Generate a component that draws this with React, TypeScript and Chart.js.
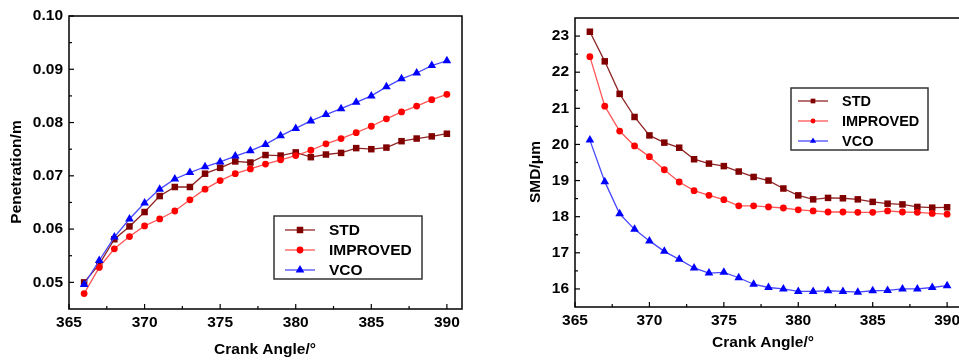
import React, { useEffect, useRef } from 'react';
import { Chart, registerables } from 'chart.js';
Chart.register(...registerables);

const crankAngles = [366, 367, 368, 369, 370, 371, 372, 373, 374, 375, 376, 377, 378, 379, 380, 381, 382, 383, 384, 385, 386, 387, 388, 389, 390];

const penSTD = [0.0500, 0.0534, 0.0581, 0.0605, 0.0632, 0.0662, 0.0679, 0.0679, 0.0704, 0.0715, 0.0727, 0.0725, 0.0739, 0.0738, 0.0744, 0.0735, 0.0740, 0.0743, 0.0752, 0.0750, 0.0753, 0.0765, 0.0770, 0.0774, 0.0779];
const penIMPROVED = [0.0479, 0.0528, 0.0563, 0.0586, 0.0606, 0.0619, 0.0634, 0.0655, 0.0675, 0.0691, 0.0704, 0.0713, 0.0722, 0.0730, 0.0738, 0.0748, 0.0760, 0.0770, 0.0781, 0.0793, 0.0807, 0.0820, 0.0831, 0.0843, 0.0853];
const penVCO = [0.0496, 0.0541, 0.0585, 0.0619, 0.0649, 0.0675, 0.0694, 0.0706, 0.0717, 0.0726, 0.0737, 0.0747, 0.0759, 0.0775, 0.0789, 0.0803, 0.0815, 0.0826, 0.0838, 0.0850, 0.0867, 0.0882, 0.0893, 0.0907, 0.0916];

const smdSTD = [23.12, 22.30, 21.40, 20.76, 20.25, 20.05, 19.91, 19.59, 19.47, 19.40, 19.25, 19.10, 19.00, 18.78, 18.59, 18.48, 18.52, 18.51, 18.48, 18.41, 18.36, 18.34, 18.27, 18.25, 18.26];
const smdIMPROVED = [22.43, 21.06, 20.37, 19.96, 19.66, 19.30, 18.96, 18.72, 18.59, 18.47, 18.30, 18.30, 18.27, 18.24, 18.19, 18.16, 18.13, 18.13, 18.12, 18.12, 18.16, 18.13, 18.12, 18.09, 18.07];
const smdVCO = [20.12, 18.97, 18.08, 17.65, 17.33, 17.04, 16.82, 16.58, 16.44, 16.46, 16.31, 16.13, 16.04, 16.00, 15.93, 15.93, 15.95, 15.93, 15.91, 15.95, 15.96, 16.00, 16.00, 16.04, 16.09];

const seriesNames = ['STD', 'IMPROVED', 'VCO'];
const xTickValues = [365, 370, 375, 380, 385, 390];
const penTickValues = [0.05, 0.06, 0.07, 0.08, 0.09, 0.10];
const smdTickValues = [16, 17, 18, 19, 20, 21, 22, 23];
const xTitle = 'Crank Angle/°';
const penTitle = 'Penetration/m';
const smdTitle = 'SMD/μm';

const FAMILY = 'Arial, "Liberation Sans", sans-serif';
const FONT_SIZE = 15.5;
const FONT = `bold ${FONT_SIZE}px ${FAMILY}`;

const styles = [
  { marker: '#800000', line: '#902525', pointStyle: 'rect', radius: 4.6 },
  { marker: '#ff0000', line: '#ff5555', pointStyle: 'circle', radius: 3.4 },
  { marker: '#0000ff', line: '#4848ff', pointStyle: 'triangle', radius: 5 },
];

function drawMarker(ctx: CanvasRenderingContext2D, style: string, r: number, x: number, y: number) {
  ctx.beginPath();
  if (style === 'rect') {
    const s = Math.SQRT1_2 * r;
    ctx.rect(x - s, y - s, 2 * s, 2 * s);
  } else if (style === 'circle') {
    ctx.arc(x, y, r, 0, Math.PI * 2);
  } else {
    ctx.moveTo(x, y - r);
    ctx.lineTo(x + r * Math.sin(Math.PI * 2 / 3), y - r * Math.cos(Math.PI * 2 / 3));
    ctx.lineTo(x + r * Math.sin(Math.PI * 4 / 3), y - r * Math.cos(Math.PI * 4 / 3));
    ctx.closePath();
  }
  ctx.fill();
}

const frameTicksPlugin = {
  id: 'frameTicks',
  afterDraw(chart: any, _args: any, opts: any) {
    const { ctx, chartArea } = chart;
    const xs = chart.scales.x;
    const ys = chart.scales.y;
    ctx.save();
    ctx.strokeStyle = '#000';
    ctx.lineWidth = 1.5;
    ctx.strokeRect(chartArea.left, chartArea.top, chartArea.right - chartArea.left, chartArea.bottom - chartArea.top);
    ctx.lineWidth = 1.2;
    const xt: number[] = opts.xTicks;
    const yt: number[] = opts.yTicks;
    const drawX = (v: number, len: number) => {
      const p = xs.getPixelForValue(v);
      ctx.beginPath();
      ctx.moveTo(p, chartArea.bottom);
      ctx.lineTo(p, chartArea.bottom - len);
      ctx.stroke();
    };
    const drawY = (v: number, len: number) => {
      const p = ys.getPixelForValue(v);
      ctx.beginPath();
      ctx.moveTo(chartArea.left, p);
      ctx.lineTo(chartArea.left + len, p);
      ctx.stroke();
    };
    xt.forEach((v, i) => {
      drawX(v, 5);
      if (i < xt.length - 1) drawX((v + xt[i + 1]) / 2, 3);
    });
    yt.forEach((v, i) => {
      drawY(v, 5);
      if (i < yt.length - 1) drawY((v + yt[i + 1]) / 2, 3);
    });
    ctx.fillStyle = '#000';
    ctx.font = FONT;
    ctx.textAlign = 'center';
    ctx.textBaseline = 'middle';
    ctx.fillText(opts.xTitle, opts.xTitleX, opts.xTitleY);
    ctx.save();
    ctx.translate(opts.yTitleX, opts.yTitleY);
    ctx.rotate(-Math.PI / 2);
    ctx.fillText(opts.yTitle, 0, 0);
    ctx.restore();
    ctx.restore();
  },
};

const boxLegendPlugin = {
  id: 'boxLegend',
  afterDraw(chart: any, _args: any, opts: any) {
    const { ctx } = chart;
    ctx.save();
    ctx.strokeStyle = '#333';
    ctx.lineWidth = 1.5;
    ctx.strokeRect(opts.x, opts.y, opts.w, opts.h);
    ctx.font = `bold ${opts.fontSize}px ${FAMILY}`;
    ctx.textAlign = 'left';
    ctx.textBaseline = 'middle';
    chart.data.datasets.forEach((ds: any, i: number) => {
      const cy = opts.y + opts.rows[i];
      ctx.strokeStyle = ds.borderColor;
      ctx.lineWidth = 1.3;
      ctx.beginPath();
      ctx.moveTo(opts.x + opts.lineStart, cy);
      ctx.lineTo(opts.x + opts.lineEnd, cy);
      ctx.stroke();
      ctx.fillStyle = ds.pointBackgroundColor;
      drawMarker(ctx, ds.pointStyle, ds.pointRadius * opts.markerScale, opts.x + (opts.lineStart + opts.lineEnd) / 2, cy);
      ctx.fillStyle = '#000';
      ctx.fillText(seriesNames[i], opts.x + opts.textX, cy + 1);
    });
    ctx.restore();
  },
};

function makeDatasets(values: number[][]) {
  return values.map((vals, i) => ({
    label: seriesNames[i],
    data: crankAngles.map((x, j) => ({ x, y: vals[j] })),
    borderColor: styles[i].line,
    borderWidth: 1.3,
    pointStyle: styles[i].pointStyle,
    pointRadius: styles[i].radius,
    pointBackgroundColor: styles[i].marker,
    pointBorderColor: styles[i].marker,
    pointBorderWidth: 0,
    order: 2 - i,
  }));
}

function makeConfig(p: any): any {
  return {
    type: 'line',
    data: { datasets: makeDatasets(p.values) },
    plugins: [frameTicksPlugin, boxLegendPlugin],
    options: {
      responsive: false,
      animation: false,
      layout: { padding: { left: 0, right: p.padRight, top: p.padTop, bottom: 0 } },
      plugins: {
        legend: { display: false },
        tooltip: { enabled: false },
        frameTicks: {
          xTicks: xTickValues,
          yTicks: p.yTicks,
          xTitle,
          yTitle: p.yTitle,
          xTitleX: p.xTitleX,
          xTitleY: p.xTitleY,
          yTitleX: p.yTitleX,
          yTitleY: p.yTitleY,
        },
        boxLegend: p.legend,
      },
      scales: {
        x: {
          type: 'linear',
          min: 365,
          max: 391,
          grid: { display: false, drawTicks: false },
          border: { display: false },
          afterBuildTicks: (s: any) => { s.ticks = xTickValues.map((v) => ({ value: v })); },
          afterFit: (s: any) => { s.height = p.xAxisHeight; },
          ticks: {
            padding: p.xPad,
            color: '#000',
            font: { family: FAMILY, size: FONT_SIZE, weight: 'bold' },
            maxRotation: 0,
            callback: (v: number) => String(v),
          },
        },
        y: {
          type: 'linear',
          min: p.yMin,
          max: p.yMax,
          grid: { display: false, drawTicks: false },
          border: { display: false },
          afterBuildTicks: (s: any) => { s.ticks = p.yTicks.map((v: number) => ({ value: v })); },
          afterFit: (s: any) => { s.width = p.yAxisWidth; },
          ticks: {
            padding: 6,
            color: '#000',
            font: { family: FAMILY, size: FONT_SIZE, weight: 'bold' },
            callback: p.yFormat,
          },
        },
      },
    },
  };
}

export default function App() {
  const leftRef = useRef<HTMLCanvasElement>(null);
  const rightRef = useRef<HTMLCanvasElement>(null);

  useEffect(() => {
    const left = new Chart(leftRef.current as HTMLCanvasElement, makeConfig({
      values: [penSTD, penIMPROVED, penVCO],
      yMin: 0.045,
      yMax: 0.10,
      yTicks: penTickValues,
      yTitle: penTitle,
      yFormat: (v: number) => v.toFixed(2),
      padRight: 18,
      padTop: 16,
      yAxisWidth: 69,
      xAxisHeight: 54,
      xPad: 4.5,
      xTitleX: 265,
      xTitleY: 350,
      yTitleX: 17,
      yTitleY: 172,
      legend: { x: 274, y: 216, w: 148, h: 63, rows: [14, 34, 54], lineStart: 11, lineEnd: 41, textX: 55, fontSize: 15.5, markerScale: 1 },
    }));
    const right = new Chart(rightRef.current as HTMLCanvasElement, makeConfig({
      values: [smdSTD, smdIMPROVED, smdVCO],
      yMin: 15.5,
      yMax: 23.5,
      yTicks: smdTickValues,
      yTitle: smdTitle,
      yFormat: (v: number) => String(v),
      padRight: 18,
      padTop: 18,
      yAxisWidth: 95,
      xAxisHeight: 56,
      xPad: 4,
      xTitleX: 283,
      xTitleY: 343,
      yTitleX: 56,
      yTitleY: 172,
      legend: { x: 311, y: 88, w: 137, h: 62, rows: [13, 33, 53], lineStart: 7, lineEnd: 37, textX: 51, fontSize: 14.5, markerScale: 0.72 },
    }));
    return () => {
      left.destroy();
      right.destroy();
    };
  }, []);

  return (
    <div style={{ position: 'fixed', left: 0, top: 0, width: 959, height: 363, overflow: 'hidden', background: '#fff' }}>
      <canvas ref={leftRef} width={480} height={363} style={{ position: 'absolute', left: 0, top: 0, width: 480, height: 363 }} />
      <canvas ref={rightRef} width={500} height={363} style={{ position: 'absolute', left: 480, top: 0, width: 500, height: 363 }} />
    </div>
  );
}
